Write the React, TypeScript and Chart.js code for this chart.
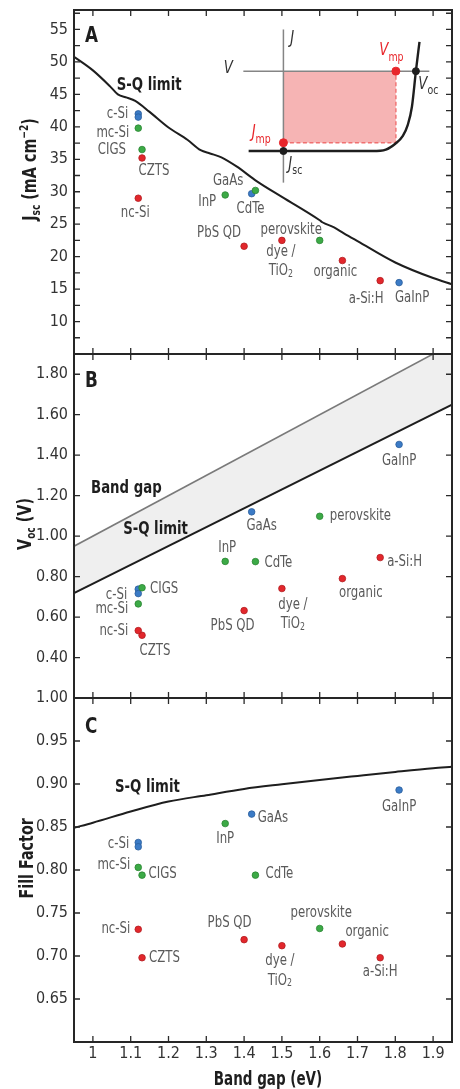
import React, { useEffect, useRef } from 'react';
import { Chart, registerables } from 'chart.js';

Chart.register(...registerables);

const FONT = '"Liberation Sans Narrow", "Arial Narrow", "DejaVu Sans Condensed", "Liberation Sans", sans-serif';
Chart.defaults.font.family = FONT;

// ---------------- data ----------------
const materials = ['c-Si', 'c-Si', 'mc-Si', 'CIGS', 'CZTS', 'nc-Si', 'InP', 'GaAs', 'CdTe', 'PbS QD', 'dye / TiO2', 'perovskite', 'organic', 'a-Si:H', 'GaInP'];
const bandGap = [1.12, 1.12, 1.12, 1.13, 1.13, 1.12, 1.35, 1.42, 1.43, 1.40, 1.50, 1.60, 1.66, 1.76, 1.81];
const family = ['blue', 'blue', 'green', 'green', 'red', 'red', 'green', 'blue', 'green', 'red', 'red', 'green', 'red', 'red', 'blue'];
const jscValues = [42.0, 41.5, 39.8, 36.5, 35.2, 29.0, 29.5, 29.7, 30.2, 21.6, 22.5, 22.5, 19.4, 16.3, 16.0];
const vocValues = [0.738, 0.716, 0.665, 0.745, 0.510, 0.533, 0.875, 1.120, 0.874, 0.632, 0.741, 1.098, 0.790, 0.894, 1.453];
const ffValues = [0.832, 0.827, 0.803, 0.794, 0.698, 0.731, 0.854, 0.865, 0.794, 0.719, 0.712, 0.732, 0.714, 0.698, 0.893];

// Shockley-Queisser limits
const sqJscGap = [0.95, 1.0, 1.046, 1.066, 1.09, 1.112, 1.15, 1.2, 1.25, 1.285, 1.31, 1.34, 1.38, 1.434, 1.5, 1.6, 1.607, 1.638, 1.664, 1.7, 1.8, 1.9, 1.95];
const sqJscValue = [50.8, 48.7, 46.2, 45.0, 44.5, 44.0, 42.3, 39.9, 38.0, 36.4, 35.9, 35.3, 33.9, 31.6, 29.2, 25.6, 25.3, 24.5, 23.6, 22.4, 19.1, 16.7, 15.75];
const sqVocGap = [0.95, 1.95];
const sqVocValue = [0.718, 1.65];
const bandGapLineX = [0.95, 1.95];
const bandGapLineY = [0.95, 1.95];
const sqFfGap = [0.95, 1.0, 1.1, 1.2, 1.3, 1.4, 1.5, 1.6, 1.7, 1.8, 1.9, 1.95];
const sqFfValue = [0.849, 0.855, 0.868, 0.8796, 0.887, 0.8943, 0.8997, 0.9047, 0.9094, 0.914, 0.9183, 0.920];

// inset J-V schematic (in panel A units)
const insetJvGap = [1.412, 1.74, 1.775, 1.80, 1.82, 1.833, 1.844, 1.8545, 1.864];
const insetJvValue = [36.27, 36.27, 36.5, 37.4, 38.6, 40.3, 43.1, 48.58, 53.1];
const insetAxisV = 1.504;
const insetAxisJ = 48.58;
const insetVmp = 1.8016;
const insetJmp = 37.55;
const insetJsc = 36.27;
const insetVoc = 1.8545;

// ticks
const xTickValues = [1.0, 1.1, 1.2, 1.3, 1.4, 1.5, 1.6, 1.7, 1.8, 1.9];
const jscTickLabels = [10, 15, 20, 25, 30, 35, 40, 45, 50, 55];
const jscTickMarks = [7.5, 10, 12.5, 15, 17.5, 20, 22.5, 25, 27.5, 30, 32.5, 35, 37.5, 40, 42.5, 45, 47.5, 50, 52.5, 55, 57.5];
const vocTickLabels = [0.4, 0.6, 0.8, 1.0, 1.2, 1.4, 1.6, 1.8];
const ffTickLabels = [0.65, 0.7, 0.75, 0.8, 0.85, 0.9, 0.95, 1.0];
const ffTickMarks = [0.65, 0.7, 0.75, 0.8, 0.85, 0.9, 0.95];

// ---------------- styles ----------------
const famColor: Record<string, string> = { red: '#e2272c', green: '#3caa46', blue: '#3b7bc6' };
const famBorder: Record<string, string> = { red: '#b31d21', green: '#2b8534', blue: '#2b5e9c' };
const LABEL_COLOR = '#5a5a5a';
const TICK_COLOR = '#333';
const INK = '#1e1e1e';
const RED = '#e8262b';
const LABEL_SIZE = 15;
const SX_REG = 0.87;
const SX_BOLD = 0.82;

type Align = 'left' | 'center' | 'right';
type Seg = { t: string; size: number; weight?: string; style?: string; dy?: number; color?: string };

// label placement [align, dx, dy] per panel
const labelPosA: Record<string, [Align, number, number]> = {
  'c-Si': ['right', -10, 0], 'mc-Si': ['right', -9, 5], 'CIGS': ['right', -16, 1], 'CZTS': ['left', -3.5, 13],
  'nc-Si': ['center', -3, 14.5], 'InP': ['center', -18, 7], 'GaAs': ['center', -23.5, -12.7], 'CdTe': ['center', -5, 19],
  'PbS QD': ['center', -25, -13], 'dye / TiO2': ['center', -1, 12], 'perovskite': ['center', -28.5, -10.5],
  'organic': ['center', -7, 12], 'a-Si:H': ['center', -14, 18], 'GaInP': ['center', 13, 16],
};
const labelPosB: Record<string, [Align, number, number]> = {
  'c-Si': ['right', -11, 6], 'mc-Si': ['right', -10, 5], 'CIGS': ['left', 8, 1], 'CZTS': ['center', 13, 16],
  'nc-Si': ['right', -10, 0], 'InP': ['center', 2, -13], 'GaAs': ['center', 10, 14], 'CdTe': ['left', 9, 1],
  'PbS QD': ['center', -11.5, 16], 'dye / TiO2': ['center', 11, 17], 'perovskite': ['left', 10, 0],
  'organic': ['center', 18.5, 14], 'a-Si:H': ['left', 7, 5], 'GaInP': ['center', 0, 17],
};
const labelPosC: Record<string, [Align, number, number]> = {
  'c-Si': ['right', -9, 1.5], 'mc-Si': ['right', -8, -2.5], 'CIGS': ['left', 6.5, -1], 'CZTS': ['left', 7, 0],
  'nc-Si': ['right', -8, 0], 'InP': ['center', 0, 16], 'GaAs': ['left', 6, 4], 'CdTe': ['left', 10, -1],
  'PbS QD': ['center', -14.5, -16.5], 'dye / TiO2': ['center', -2, 15], 'perovskite': ['center', 1.5, -15],
  'organic': ['left', 3, -12], 'a-Si:H': ['center', 0, 14], 'GaInP': ['center', 0, 17],
};

function fontOf(s: Seg) {
  return `${s.style || 'normal'} ${s.weight || 'normal'} ${s.size}px ${FONT}`;
}

// draws a run of text segments, horizontally condensed by sx
function drawRich(ctx: CanvasRenderingContext2D, segs: Seg[], x: number, y: number, align: Align, color: string, sx = SX_REG) {
  ctx.save();
  ctx.translate(x, y);
  ctx.scale(sx, 1);
  ctx.textBaseline = 'middle';
  ctx.textAlign = 'left';
  let w = 0;
  for (const s of segs) { ctx.font = fontOf(s); w += ctx.measureText(s.t).width; }
  let cx = align === 'left' ? 0 : align === 'center' ? -w / 2 : -w;
  for (const s of segs) {
    ctx.font = fontOf(s);
    ctx.fillStyle = s.color || color;
    ctx.fillText(s.t, cx, s.dy || 0);
    cx += ctx.measureText(s.t).width;
  }
  ctx.restore();
}

function materialLines(name: string): Seg[][] {
  if (name === 'dye / TiO2') {
    return [[{ t: 'dye /', size: LABEL_SIZE }], [{ t: 'TiO', size: LABEL_SIZE }, { t: '2', size: 10, dy: 3 }]];
  }
  return [[{ t: name, size: LABEL_SIZE }]];
}

function pointsFor(values: number[], fam: string) {
  return bandGap.map((g, i) => ({ x: g, y: values[i] })).filter((_, i) => family[i] === fam);
}

function xy(xs: number[], ys: number[]) {
  return xs.map((x, i) => ({ x, y: ys[i] }));
}

function scatterSets(values: number[]) {
  return ['red', 'green', 'blue'].map((f) => ({
    type: 'scatter' as const,
    data: pointsFor(values, f),
    backgroundColor: famColor[f],
    borderColor: famBorder[f],
    borderWidth: 0.8,
    pointRadius: 3.3,
    order: 0,
  }));
}

function lineSet(data: { x: number; y: number }[], color: string, width: number, extra: any = {}) {
  return {
    type: 'line' as const,
    data,
    borderColor: color,
    borderWidth: width,
    pointRadius: 0,
    fill: false,
    cubicInterpolationMode: 'monotone' as const,
    order: 5,
    ...extra,
  };
}

interface PanelSpec {
  yMin: number;
  yMax: number;
  yLabels: number[];
  yMarks: number[];
  fmt: (v: number) => string;
  padTop: number;
  padBottom: number;
  showX: boolean;
  datasets: any[];
  values: number[];
  labelPos: Record<string, [Align, number, number]>;
  lineGap: number;
  letter: string;
  letterDy: number;
  title: Seg[];
  titleX: number;
  titleY: number;
  extra: (chart: any, ctx: CanvasRenderingContext2D) => void;
}

function buildConfig(p: PanelSpec): any {
  const overlay = {
    id: 'overlay' + p.letter,
    afterDraw(chart: any) {
      const { ctx, chartArea: a } = chart;
      const xs = chart.scales.x;
      const ys = chart.scales.y;
      ctx.save();
      // inward ticks on all four sides
      ctx.strokeStyle = '#2a2a2a';
      ctx.lineWidth = 1.3;
      ctx.beginPath();
      for (const v of xTickValues) {
        const px = xs.getPixelForValue(v);
        ctx.moveTo(px, a.top); ctx.lineTo(px, a.top + 6);
        ctx.moveTo(px, a.bottom); ctx.lineTo(px, a.bottom - 6);
      }
      for (const v of p.yMarks) {
        const py = ys.getPixelForValue(v);
        ctx.moveTo(a.left, py); ctx.lineTo(a.left + 6, py);
        ctx.moveTo(a.right, py); ctx.lineTo(a.right - 6, py);
      }
      ctx.stroke();
      // frame
      ctx.strokeStyle = '#262626';
      ctx.lineWidth = 2;
      ctx.strokeRect(a.left, a.top, a.right - a.left, a.bottom - a.top);
      ctx.restore();

      // material labels
      const done: Record<string, boolean> = {};
      materials.forEach((m, i) => {
        if (done[m]) return;
        done[m] = true;
        const pos = p.labelPos[m];
        if (!pos) return;
        const px = xs.getPixelForValue(bandGap[i]);
        const py = ys.getPixelForValue(p.values[i]);
        materialLines(m).forEach((line, li) => {
          drawRich(ctx, line, px + pos[1], py + pos[2] + li * p.lineGap, pos[0], LABEL_COLOR);
        });
      });

      // panel letter
      drawRich(ctx, [{ t: p.letter, size: 22, weight: 'bold' }], a.left + 11, a.top + p.letterDy, 'left', INK, 0.85);

      // axis title (rotated)
      ctx.save();
      ctx.translate(p.titleX, p.titleY);
      ctx.rotate(-Math.PI / 2);
      drawRich(ctx, p.title, 0, 0, 'center', INK, 0.84);
      ctx.restore();

      p.extra(chart, ctx);
    },
  };

  return {
    type: 'scatter',
    data: { datasets: p.datasets },
    options: {
      responsive: false,
      maintainAspectRatio: false,
      animation: false,
      events: [],
      layout: { padding: { top: p.padTop, right: 8, bottom: p.padBottom, left: 0 } },
      plugins: { legend: { display: false }, tooltip: { enabled: false } },
      scales: {
        x: {
          type: 'linear',
          min: 0.95,
          max: 1.95,
          display: p.showX,
          position: 'bottom',
          grid: { display: false, drawTicks: false },
          border: { display: false },
          ticks: {
            autoSkip: false,
            maxRotation: 0,
            padding: 2,
            color: TICK_COLOR,
            font: { size: 16, family: FONT },
            callback: (v: number) => (Math.abs(v - Math.round(v)) < 1e-9 ? String(Math.round(v)) : v.toFixed(1)),
          },
          afterBuildTicks: (s: any) => { s.ticks = xTickValues.map((v) => ({ value: v })); },
          afterFit: (s: any) => {
            s.height = p.showX ? 47 : 0;
            s.paddingLeft = 0; s.paddingRight = 0;
          },
        },
        y: {
          type: 'linear',
          min: p.yMin,
          max: p.yMax,
          grid: { display: false, drawTicks: false },
          border: { display: false },
          ticks: {
            autoSkip: false,
            padding: 6,
            color: TICK_COLOR,
            font: { size: 16, family: FONT },
            callback: (v: number) => p.fmt(v),
          },
          afterBuildTicks: (s: any) => { s.ticks = p.yLabels.map((v) => ({ value: v })); },
          afterFit: (s: any) => { s.width = 74; s.paddingTop = 0; s.paddingBottom = 0; },
        },
      },
    },
    plugins: [overlay],
  };
}

// ---------------- panels ----------------
function specA(): PanelSpec {
  const datasets = [
    ...scatterSets(jscValues),
    lineSet(xy(sqJscGap, sqJscValue), INK, 2),
    // inset: maximum-power rectangle
    lineSet([{ x: insetAxisV, y: insetAxisJ }, { x: insetVmp, y: insetAxisJ }], 'rgba(0,0,0,0)', 0, {
      fill: { value: insetJmp }, backgroundColor: '#f6b4b4', order: 20, cubicInterpolationMode: 'default',
    }),
    lineSet([{ x: insetAxisV, y: 31.4 }, { x: insetAxisV, y: 55 }], '#858585', 1.5, { order: 15, cubicInterpolationMode: 'default' }),
    lineSet([{ x: 1.398, y: insetAxisJ }, { x: 1.89, y: insetAxisJ }], '#858585', 1.5, { order: 15, cubicInterpolationMode: 'default' }),
    lineSet([{ x: insetAxisV, y: insetJmp }, { x: insetVmp, y: insetJmp }, { x: insetVmp, y: insetAxisJ }], '#f07070', 1.4, {
      borderDash: [4, 2.5], order: 12, cubicInterpolationMode: 'default',
    }),
    lineSet(xy(insetJvGap, insetJvValue), INK, 2.4, { order: 10 }),
    {
      type: 'scatter' as const,
      data: [{ x: insetAxisV, y: insetJsc }, { x: insetVoc, y: insetAxisJ }],
      backgroundColor: INK, borderColor: INK, pointRadius: 3.5, order: 1,
    },
    {
      type: 'scatter' as const,
      data: [{ x: insetAxisV, y: insetJmp }, { x: insetVmp, y: insetAxisJ }],
      backgroundColor: RED, borderColor: RED, pointRadius: 4, order: 1,
    },
  ];
  return {
    yMin: 5, yMax: 58, yLabels: jscTickLabels, yMarks: jscTickMarks, fmt: (v) => String(v),
    padTop: 10, padBottom: 6, showX: false, datasets, values: jscValues, labelPos: labelPosA, lineGap: 18.5,
    letter: 'A', letterDy: 26,
    title: [
      { t: 'J', size: 19, weight: 'bold' },
      { t: 'sc', size: 12, weight: 'bold', dy: 5 },
      { t: ' (mA cm', size: 19, weight: 'bold' },
      { t: '−2', size: 12, weight: 'bold', dy: -7 },
      { t: ')', size: 19, weight: 'bold' },
    ],
    titleX: 31.5, titleY: 169.5,
    extra: (chart, ctx) => {
      const xs = chart.scales.x; const ys = chart.scales.y;
      const P = (x: number, y: number) => [xs.getPixelForValue(x), ys.getPixelForValue(y)];
      let q = P(1.063, 46.43);
      drawRich(ctx, [{ t: 'S-Q limit', size: 18, weight: 'bold' }], q[0], q[1], 'left', INK, SX_BOLD);
      q = P(1.522, 53.6);
      drawRich(ctx, [{ t: 'J', size: 17, style: 'italic' }], q[0], q[1], 'left', '#333');
      q = P(1.358, 48.9);
      drawRich(ctx, [{ t: 'V', size: 17, style: 'italic' }], q[0], q[1], 'center', '#333');
      q = P(1.7577, 51.7);
      drawRich(ctx, [{ t: 'V', size: 17, style: 'italic' }, { t: 'mp', size: 12, dy: 7 }], q[0], q[1], 'left', RED);
      q = P(1.861, 46.58);
      drawRich(ctx, [{ t: 'V', size: 17, style: 'italic' }, { t: 'oc', size: 12, dy: 7 }], q[0], q[1], 'left', '#333');
      q = P(1.420, 39.04);
      drawRich(ctx, [{ t: 'J', size: 17, style: 'italic' }, { t: 'mp', size: 12, dy: 7 }], q[0], q[1], 'left', RED);
      q = P(1.517, 34.22);
      drawRich(ctx, [{ t: 'J', size: 17, style: 'italic' }, { t: 'sc', size: 12, dy: 7 }], q[0], q[1], 'left', '#333');
    },
  };
}

function specB(): PanelSpec {
  const datasets = [
    ...scatterSets(vocValues),
    lineSet(xy(bandGapLineX, bandGapLineY), '#7a7a7a', 1.6, { fill: '+1', backgroundColor: '#efefef', order: 8, cubicInterpolationMode: 'default' }),
    lineSet(xy(sqVocGap, sqVocValue), INK, 2, { order: 7, cubicInterpolationMode: 'default' }),
  ];
  return {
    yMin: 0.2, yMax: 1.9, yLabels: vocTickLabels, yMarks: vocTickLabels, fmt: (v) => v.toFixed(2),
    padTop: 10, padBottom: 10, showX: false, datasets, values: vocValues, labelPos: labelPosB, lineGap: 19,
    letter: 'B', letterDy: 27,
    title: [
      { t: 'V', size: 19, weight: 'bold' },
      { t: 'oc', size: 12, weight: 'bold', dy: 5 },
      { t: ' (V)', size: 19, weight: 'bold' },
    ],
    titleX: 26.5, titleY: 524 - 344,
    extra: (chart, ctx) => {
      const xs = chart.scales.x; const ys = chart.scales.y;
      let px = xs.getPixelForValue(0.995); let py = ys.getPixelForValue(1.236);
      drawRich(ctx, [{ t: 'Band gap', size: 18, weight: 'bold' }], px, py, 'left', INK, SX_BOLD);
      px = xs.getPixelForValue(1.080); py = ys.getPixelForValue(1.0335);
      drawRich(ctx, [{ t: 'S-Q limit', size: 18, weight: 'bold' }], px, py, 'left', INK, SX_BOLD);
    },
  };
}

function specC(): PanelSpec {
  const datasets = [
    ...scatterSets(ffValues),
    lineSet(xy(sqFfGap, sqFfValue), INK, 2),
  ];
  return {
    yMin: 0.6, yMax: 1.0, yLabels: ffTickLabels, yMarks: ffTickMarks, fmt: (v) => v.toFixed(2),
    padTop: 10, padBottom: 0, showX: true, datasets, values: ffValues, labelPos: labelPosC, lineGap: 20,
    letter: 'C', letterDy: 29,
    title: [{ t: 'Fill Factor', size: 19, weight: 'bold' }],
    titleX: 28, titleY: 858.3 - 688,
    extra: (chart, ctx) => {
      const xs = chart.scales.x; const ys = chart.scales.y;
      const px = xs.getPixelForValue(1.0585); const py = ys.getPixelForValue(0.8962);
      drawRich(ctx, [{ t: 'S-Q limit', size: 18, weight: 'bold' }], px, py, 'left', INK, SX_BOLD);
      const a = chart.chartArea;
      drawRich(ctx, [{ t: 'Band gap (eV)', size: 19, weight: 'bold' }], (a.left + a.right) / 2 + 5, 1080 - 688, 'center', INK, 0.79);
    },
  };
}

function Panel({ top, height, spec }: { top: number; height: number; spec: () => PanelSpec }) {
  const ref = useRef<HTMLCanvasElement>(null);
  useEffect(() => {
    if (!ref.current) return;
    const chart = new Chart(ref.current, buildConfig(spec()));
    return () => chart.destroy();
  }, []);
  return (
    <canvas
      ref={ref}
      width={460}
      height={height}
      style={{ position: 'absolute', left: 0, top, width: 460, height }}
    />
  );
}

export default function App() {
  return (
    <div style={{ position: 'absolute', left: 0, top: 0, width: 460, height: 1089, background: '#fff', overflow: 'hidden' }}>
      <Panel top={0} height={360} spec={specA} />
      <Panel top={344} height={364} spec={specB} />
      <Panel top={688} height={401} spec={specC} />
    </div>
  );
}
